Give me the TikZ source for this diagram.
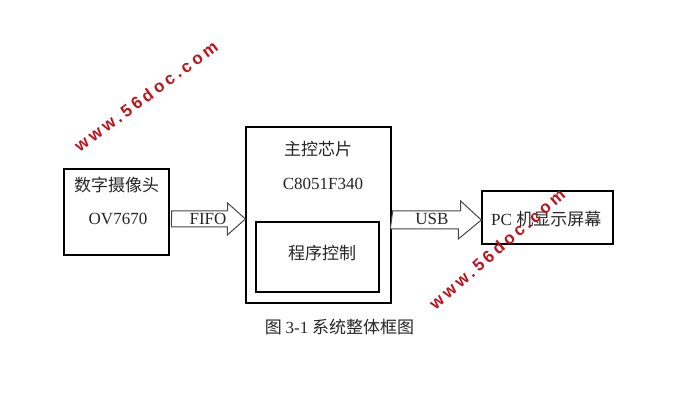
\documentclass[tikz,border=0pt]{standalone}
\usepackage{fontspec}
\setmainfont{Liberation Serif}
\newfontfamily\cjk{Noto Sans CJK SC}
\newfontfamily\wmfont[LetterSpace=20]{Liberation Sans Bold}
\definecolor{wmred}{RGB}{190,20,30}
\definecolor{arrgray}{RGB}{70,70,70}
\begin{document}
\begin{tikzpicture}[x=1pt,y=-1pt,
  blk/.style={draw=black,line width=1.3pt,inner sep=0pt,fill=white},
  zh/.style={font=\cjk\fontsize{17}{17}\selectfont,inner sep=0pt,text=black!85},
  en/.style={font=\fontsize{17}{17}\selectfont,inner sep=0pt,text=black!85},
  fatarrow/.style={draw=arrgray,line width=1pt,fill=white},
  wm/.style={font=\wmfont\fontsize{17}{17}\selectfont,text=wmred,inner sep=0pt}]
\useasboundingbox (0,0) rectangle (677,411);
\fill[white] (0,0) rectangle (677,411);
% boxes
\node[blk,minimum width=105pt,minimum height=86pt] (cam) at (116.5,212) {};
\node[blk,minimum width=145pt,minimum height=176pt] (main) at (318.5,215) {};
\node[blk,minimum width=123pt,minimum height=70pt] (inner) at (317.5,257) {};
\node[blk,minimum width=131pt,minimum height=53pt] (pc) at (547.5,217.5) {};
% texts
\node[zh] (camt) at (116.5,185) {数字摄像头};
\node[en] (camm) at (118,219) {OV7670};
\node[zh] (maint) at (318,149) {主控芯片};
\node[en] (mainm) at (323,184) {C8051F340};
\node[zh] (innert) at (322,253) {程序控制};
\node[en,anchor=west] (pct) at (491,219) {PC {\cjk 机显示屏幕}};
% FIFO arrow
\coordinate (fa) at ([xshift=2pt,yshift=1pt]cam.east);
\draw[fatarrow] (fa) -- ++(56,0) -- ++(0,-8) -- (main.west |- 0,219) -- ++(-18,16) -- ++(0,-8) -- ++(-56,0) -- cycle;
\node[en] (fifo) at (208,219) {FIFO};
% USB arrow
\coordinate (ua) at ([xshift=1pt,yshift=4pt]main.east);
\draw[fatarrow] (ua) -- ++(68,0) -- ++(0,-10) -- (pc.west |- 0,220) -- ++(-23,19) -- ++(0,-10) -- ++(-68,0) -- cycle;
\node[en] (usb) at (432,219) {USB};
% caption
\node[zh,font=\cjk\fontsize{17}{17}\selectfont] (cap) at (339.5,327) {图 {\fontsize{17}{17}\selectfont\rmfamily 3-1} 系统整体框图};
% watermarks
\node[wm,rotate=36.5] (wm1) at (146,96) {www.56doc.com};
\node[wm,rotate=41] (wm2) at (497,249) {www.56doc.com};
\end{tikzpicture}
\end{document}
